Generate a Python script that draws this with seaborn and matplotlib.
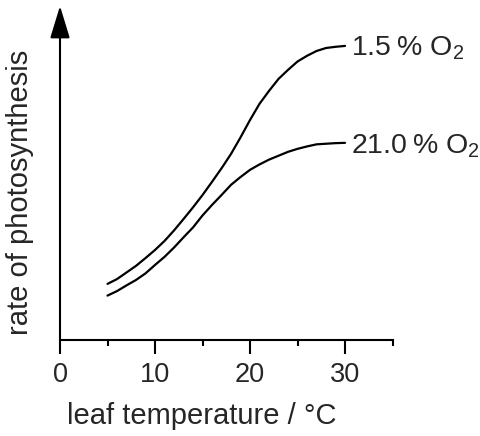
import numpy as np
import pandas as pd
import seaborn as sns
import matplotlib.pyplot as plt

# values (rate in arbitrary units)
temp = list(range(5, 31))
rate_low_o2 = [18.7, 20.3, 22.5, 24.7, 27.3, 30.0, 33.0, 36.5, 40.3, 44.2,
               48.3, 52.7, 57.2, 62.0, 67.5, 73.3, 78.7, 83.0, 87.0, 90.0,
               92.8, 94.7, 96.3, 97.3, 97.7, 98.0]
rate_high_o2 = [14.8, 16.3, 18.2, 20.0, 22.2, 25.0, 27.7, 30.8, 34.2, 37.5,
                41.5, 45.0, 48.3, 51.7, 54.3, 56.7, 58.5, 60.1, 61.4, 62.7,
                63.7, 64.5, 65.2, 65.4, 65.6, 65.7]
series = ["1.5\u2009% O$_\\mathrm{2}$", "21.0\u2009% O$_\\mathrm{2}$"]
xticks = [0, 10, 20, 30]
xminor = [5, 15, 25, 35]

df = pd.DataFrame({
    "temp": temp * 2,
    "rate": rate_low_o2 + rate_high_o2,
    "o2": [series[0]] * len(temp) + [series[1]] * len(temp),
})

sns.set_style("white")
plt.rcParams['font.family'] = ['Liberation Sans', 'DejaVu Sans']
plt.rcParams['mathtext.fontset'] = 'custom'
plt.rcParams['mathtext.rm'] = 'Liberation Sans'

fig = plt.figure(figsize=(4.8, 4.36), dpi=100)
ax = fig.add_axes([60 / 480, 96 / 436, 332.5 / 480, 334 / 436])

sns.lineplot(data=df, x="temp", y="rate", hue="o2", palette=["black", "black"],
             estimator=None, legend=False, linewidth=1.6, ax=ax)

ax.set_xlim(0, 35)
ax.set_ylim(0, 111.3)

# curve labels
ax.text(30.6, 95.0, series[0], fontsize=20.5, va="baseline", ha="left")
ax.text(30.6, 62.2, series[1], fontsize=20.5, va="baseline", ha="left")

for s in ["top", "right", "left"]:
    ax.spines[s].set_visible(False)
ax.spines["bottom"].set_linewidth(1.5)
ax.spines["bottom"].set_color("black")

ax.set_xticks(xticks)
ax.set_xticks(xminor, minor=True)
ax.set_yticks([])
ax.tick_params(axis="x", which="major", direction="out", length=10, width=1.5,
               color="black", labelsize=19.5, pad=6, bottom=True)
ax.tick_params(axis="x", which="minor", direction="out", length=4.5, width=1.5,
               color="black", bottom=True)

# y axis drawn as an arrow
ax.annotate("", xy=(0, 111.3), xytext=(0, 0), annotation_clip=False,
            arrowprops=dict(arrowstyle="-|>,head_length=0.8,head_width=0.245",
                            mutation_scale=25, lw=1.5, color="black",
                            shrinkA=0, shrinkB=0))

ax.set_xlabel("leaf temperature / °C", fontsize=21)
ax.xaxis.set_label_coords(0.4256, -0.186)
ax.set_ylabel("rate of photosynthesis", fontsize=21)
ax.yaxis.set_label_coords(-0.078, 0.443)

fig.savefig("out.png", dpi=100)
